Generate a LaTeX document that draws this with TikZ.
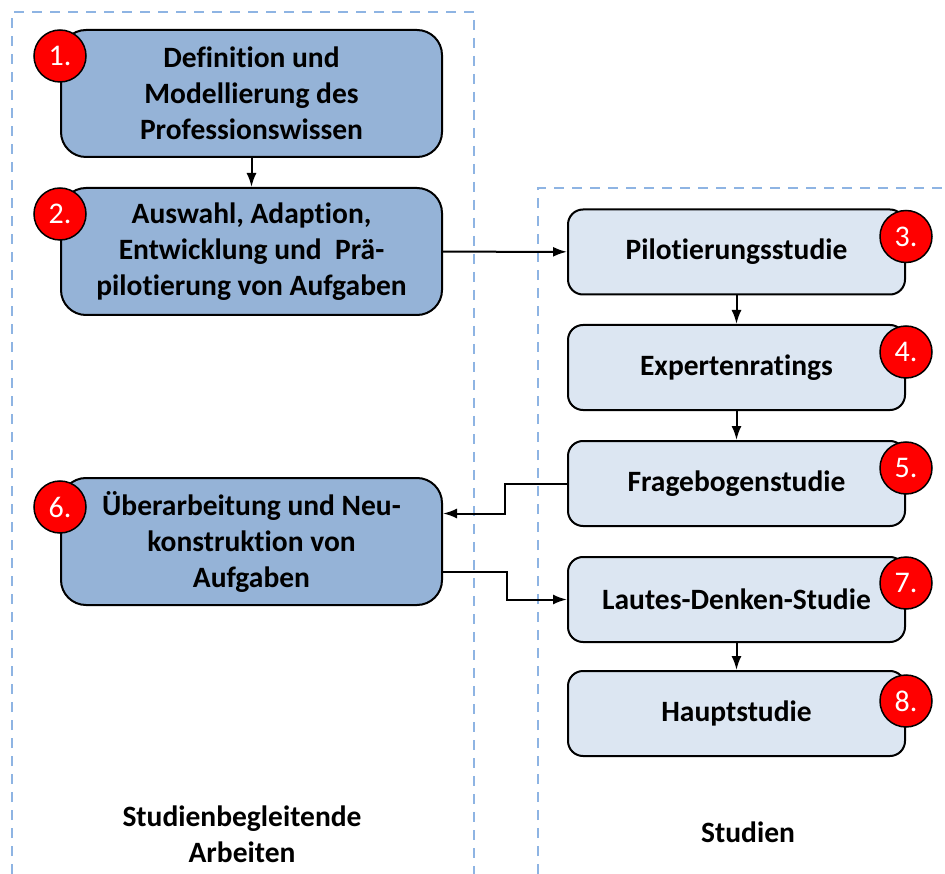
\documentclass[tikz,border=0pt]{standalone}
\usepackage{fontspec}
\setmainfont{Carlito}[Ligatures={NoCommon}]
\usepackage{tikz}
\usetikzlibrary{arrows}
\usetikzlibrary{arrows.meta}
\usetikzlibrary{positioning}
\definecolor{darkblock}{HTML}{95B3D7}
\definecolor{lightblock}{HTML}{DCE6F2}
\definecolor{framecol}{HTML}{8EB4E3}
\tikzset{
    block/.style={
           rectangle,
           rounded corners=25pt,
           draw=black, line width=2pt,
           fill=darkblock,
           minimum width=381pt,
           minimum height=127pt,
           inner sep=2pt,
           align=center,
           font=\fontsize{29.5}{36}\selectfont\bfseries,
           },
     block2/.style={
           rectangle,
           rounded corners=15pt,
           draw=black, line width=2pt,
           fill=lightblock,
           minimum width=337pt,
           minimum height=85pt,
           inner sep=2pt,
           align=center,
           font=\fontsize{29.5}{36}\selectfont\bfseries,
           },
     badge/.style={
           circle,
           draw=black, line width=1.5pt,
           fill=red,
           text=white,
           minimum size=52pt,
           inner sep=0pt,
           font=\fontsize{30}{32}\selectfont,
           },
     frameless/.style={
           align=center,
           font=\fontsize{29.5}{36}\selectfont\bfseries,
           },
     frame/.style={
           draw=framecol, line width=2pt,
           dash pattern=on 10pt off 8pt,
           },
     conn/.style={
           -{Latex[length=14pt,width=10pt]},
           line width=2pt,
           },
}
\begin{document}
\begin{tikzpicture}[x=1pt,y=-1pt,node distance=29pt]
	\useasboundingbox (0,0) rectangle (945,874);
	% frames
	\draw[frame] (12,874) -- (12,12) -- (474,12) -- (474,874);
	\draw[frame] (538,874) -- (538,188) -- (945,188);

	% left column
	\node[block] (prof) at (251.5,93.5) {Definition und\\Modellierung des\\Professionswissen};
	\node[block, below=of prof] (aufg) {Auswahl, Adaption,\\Entwicklung und~~Prä-\\pilotierung von Aufgaben};
	\node[block] (ueber) at (251.5,541.5) {Überarbeitung und Neu-\\konstruktion von\\Aufgaben};

	% right column
	\node[block2] (pilot) at (736.5,252) {Pilotierungsstudie};
	\node[block2, below=28.5pt of pilot] (expert) {Expertenratings};
	\node[block2, below=of expert] (frage) {Fragebogenstudie};
	\node[block2, below=of frage] (laut) {Lautes-Denken-Studie};
	\node[block2, below=27pt of laut] (haupt) {Hauptstudie};

	% badges
	\node[badge] (n1) at ([yshift=-27pt]prof.north west) {1.};
	\node[badge] (n2) at ([yshift=-27pt]aufg.north west) {2.};
	\node[badge] (n6) at ([yshift=-30pt]ueber.north west) {6.};
	\node[badge] (n3) at ([yshift=-28pt]pilot.north east) {3.};
	\node[badge] (n4) at ([yshift=-28pt]expert.north east) {4.};
	\node[badge] (n5) at ([yshift=-28pt]frage.north east) {5.};
	\node[badge] (n7) at ([yshift=-27pt]laut.north east) {7.};
	\node[badge] (n8) at ([yshift=-31pt]haupt.north east) {8.};

	% labels
	\node[frameless] (lbl1) at (242,834) {Studienbegleitende\\Arbeiten};
	\node[frameless] (lbl2) at (748,832) {Studien};

	\path[conn] (prof) edge (aufg);
	\path[conn] (aufg) edge (pilot);
	\path[conn] (pilot) edge (expert);
	\path[conn] (expert) edge (frage);
	\path[conn] (laut) edge (haupt);
	\draw[conn] (frage.west) -- ++(-62,0) |- ([yshift=28pt]ueber.east);
	\draw[conn] ([yshift=-30pt]ueber.east) -- ++(64,0) |- (laut.west);
\end{tikzpicture}
\end{document}
